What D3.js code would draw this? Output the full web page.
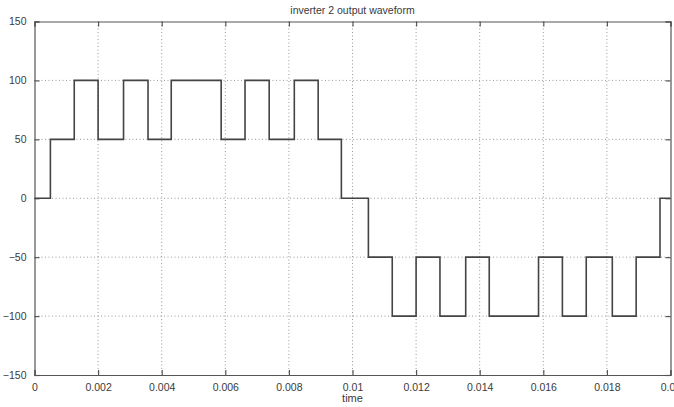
<!DOCTYPE html>
<html><head><meta charset="utf-8">
<script src="https://cdn.jsdelivr.net/npm/d3@7"></script>
<style>body{margin:0;background:#fff}svg{display:block}</style>
</head><body>
<script>
// Step transition times (s) and levels (V)
const switchTimes = [0, 0.0005, 0.00125, 0.002, 0.0028, 0.00357, 0.0043, 0.00587, 0.00662, 0.00738, 0.00817, 0.00892, 0.00965,
  0.0105, 0.01125, 0.012, 0.01275, 0.01356, 0.0143, 0.01585, 0.0166, 0.01735, 0.01817, 0.01892, 0.01967, 0.02];
const levels = [0, 50, 100, 50, 100, 50, 100, 50, 100, 50, 100, 50, 0,
  -50, -100, -50, -100, -50, -100, -50, -100, -50, -100, -50, 0, 0];
const xTicks = [0, 0.002, 0.004, 0.006, 0.008, 0.01, 0.012, 0.014, 0.016, 0.018, 0.02];
const xTickLabels = ["0", "0.002", "0.004", "0.006", "0.008", "0.01", "0.012", "0.014", "0.016", "0.018", "0.02"];
const yTicks = [-150, -100, -50, 0, 50, 100, 150];
const title = "inverter 2 output waveform";
const xLabel = "time";

const W = 674, H = 407;
const m = {left: 34.5, right: 3.5, top: 21.5, bottom: 32};
const svg = d3.select("body").append("svg").attr("width", W).attr("height", H);
const x = d3.scaleLinear().domain([0, 0.02]).range([m.left, W - m.right]);
const y = d3.scaleLinear().domain([-150, 150]).range([H - m.bottom, m.top]);
const font = "Arial, 'Liberation Sans', sans-serif";
const ink = "#3a3a3a";

// grid
const grid = svg.append("g");
grid.selectAll(".vg").data(xTicks.slice(1, -1)).join("line")
  .attr("x1", d => x(d)).attr("x2", d => x(d)).attr("y1", y(150)).attr("y2", y(-150))
  .attr("stroke", "#999").attr("stroke-width", 1).attr("stroke-dasharray", "1,2.5");
grid.selectAll(".hg").data(yTicks.slice(1, -1)).join("line")
  .attr("y1", d => y(d)).attr("y2", d => y(d)).attr("x1", x(0)).attr("x2", x(0.02))
  .attr("stroke", "#999").attr("stroke-width", 1).attr("stroke-dasharray", "1,2.5");

// axes with inward ticks
const axB = svg.append("g").attr("transform", `translate(0,${y(-150)})`)
  .call(d3.axisBottom(x).tickValues(xTicks).tickSize(-5).tickPadding(9).tickFormat((d, i) => xTickLabels[i]));
const axT = svg.append("g").attr("transform", `translate(0,${y(150)})`)
  .call(d3.axisTop(x).tickValues(xTicks).tickSize(-5).tickFormat(""));
const axL = svg.append("g").attr("transform", `translate(${x(0)},0)`)
  .call(d3.axisLeft(y).tickValues(yTicks).tickSize(-5).tickPadding(8));
const axR = svg.append("g").attr("transform", `translate(${x(0.02)},0)`)
  .call(d3.axisRight(y).tickValues(yTicks).tickSize(-5).tickFormat(""));
[axB, axT, axL, axR].forEach(a => {
  a.selectAll("path").attr("stroke", "#555").attr("stroke-width", 1.2);
  a.selectAll("line").attr("stroke", "#555").attr("stroke-width", 1.2);
  a.selectAll("text").attr("fill", ink).style("font-family", font).style("font-size", "10.5px");
});

// waveform (step)
const data = switchTimes.map((t, i) => ({t, v: levels[i]}));
const line = d3.line().x(d => x(d.t)).y(d => y(d.v)).curve(d3.curveStepAfter);
svg.append("path").datum(data).attr("d", line)
  .attr("fill", "none").attr("stroke", "#444").attr("stroke-width", 1.6);

// title & label
svg.append("text").attr("x", (x(0) + x(0.02)) / 2).attr("y", 14).attr("text-anchor", "middle")
  .attr("fill", ink).style("font-family", font).style("font-size", "10.5px").text(title);
svg.append("text").attr("x", (x(0) + x(0.02)) / 2).attr("y", 402).attr("text-anchor", "middle")
  .attr("fill", ink).style("font-family", font).style("font-size", "11px").text(xLabel);
</script>
</body></html>
